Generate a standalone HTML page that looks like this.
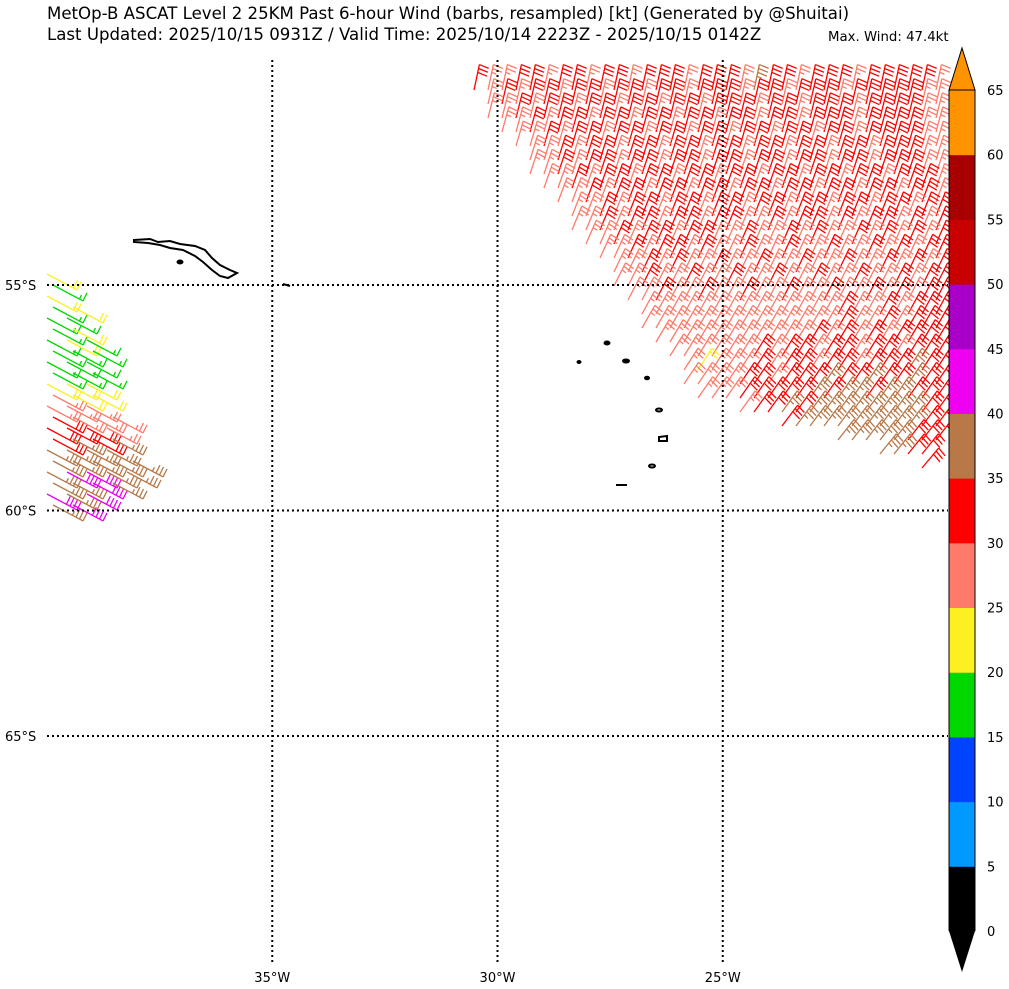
<!DOCTYPE html>
<html><head><meta charset="utf-8"><style>
body{margin:0;background:#fff;width:1009px;height:989px;overflow:hidden;font-family:"DejaVu Sans","Liberation Sans",sans-serif}
svg{position:absolute;left:0;top:0}
</style></head><body>
<svg id="chart" width="1009" height="989" font-family="DejaVu Sans, Liberation Sans, sans-serif">
<text x="47" y="19" font-size="16.6">MetOp-B ASCAT Level 2 25KM Past 6-hour Wind (barbs, resampled) [kt] (Generated by @Shuitai)</text>
<text x="47" y="40" font-size="16.6">Last Updated: 2025/10/15 0931Z / Valid Time: 2025/10/14 2223Z - 2025/10/15 0142Z</text>
<text x="828" y="41" font-size="13.3">Max. Wind: 47.4kt</text>
<g id="barbs"></g>
<g id="grid"></g>
<g id="land" fill="none" stroke="#000" stroke-width="2">
<path d="M134,240 L150,239 L158,242 L170,241 L180,244 L195,246 L205,250 L212,258 L220,265 L230,270 L237,273 L228,278 L220,276 L212,270 L203,262 L195,256 L183,250 L170,248 L160,245 L148,243 L134,242 Z"/>
<ellipse cx="180" cy="262" rx="2.5" ry="1.5" fill="#000"/>
<path d="M283,284 L290,286"/>
<ellipse cx="607" cy="343" rx="2.5" ry="1.5" fill="#000"/>
<ellipse cx="579" cy="362" rx="1.5" ry="1" fill="#000"/>
<ellipse cx="626" cy="361" rx="3" ry="1.5" fill="#000"/>
<ellipse cx="647" cy="378" rx="2" ry="1.2" fill="#000"/>
<ellipse cx="659" cy="410" rx="3" ry="1.5"/>
<path d="M659,437 L667,436 L667,441 L659,441 Z"/>
<ellipse cx="652" cy="466" rx="3" ry="1.5"/>
<path d="M616,485 L627,485"/>
</g>
<g id="axes" font-size="13"></g>
<g id="cbar"></g>
</svg>
<script>
const lonTicks=[-35,-30,-25];
const latTicks=[-55,-60,-65];
const cbLevels=[0,5,10,15,20,25,30,35,40,45,50,55,60,65];
const cbColors=["#000000","#0099ff","#0044ff","#00d800","#fcf020","#ff7a6a","#ff0000","#b87848","#f000f0","#a800c8","#c80000","#a80000","#ff9400"];
const codeSpeed={g:17,y:22,p:27,r:32,b:37,m:42};
const mainRows=[
"rpprrprrprrprrrprrrpbrrprrrprrrrrp",
".prprrprrprrprrprrrprrprrrprrrrrpp",
".pprprrprrprrprrprrrprrprrrprrrrpp",
"..pprprrprrprrprrprrprrprrrprrrrpp",
"...pprprrprrprrprrprrprrprrprrrrpp",
"....pprprrprrprrprrprrprrprrprrrpp",
"....pprprrprrprrprrprrprrprrprrrpp",
".....pprprrprrprrprrprrprrprrprrrp",
"......pprprrprrprrprrprrprrprrprrp",
".......pprprrprrprrprrprrprrprrprr",
".......pprprrprrprrpprprrprprrprpr",
"........pprprrprrpprpprprpprprprpr",
".........pprprrprpprpprpprpprprprr",
"..........pprprpprpprpprpprpprprpr",
"..........pprpprpprpprpprpprpprprr",
"...........pprpprpprpprpprpprprprr",
"............pppppppppppppprpprprrr",
"............pppppppppppppprpprprrr",
".............ppppppppppprprprprrrr",
"..............pppppprprrprrprrprrr",
"...............pyppprprrprrprrrbrr",
"...............pppprrprrrbrrbrrbrr",
"................ppprrrrrbrbbrbbrrr",
"...................prrbrbbbbbbbbrr",
"......................rbbbbbbbbbrr",
"..........................bbbbbrrr",
".............................bbrr",
"................................r"];
const leftRows=["y","g","y","gy","gg","gy","gyg","ggg","ggg","ggg","yyy","pyy","ppp","rppp","rrrp","rbrb","bbbb","bbbbb","bmmbb","bbmb","mbm","bm"];

const NS="http://www.w3.org/2000/svg";
const X=lon=>47+(lon+40)*(901/20);
const Y=lat=>285+(-55-lat)*(225.5/5);
function colorFor(s){let i=Math.min(Math.floor(s/5),cbColors.length-1);return cbColors[i];}
function mk(tag,attrs,parent){const e=document.createElementNS(NS,tag);for(const k in attrs)e.setAttribute(k,attrs[k]);parent.appendChild(e);return e;}
const barbs=document.getElementById('barbs');
function barb(x,y,ang,len,fang,speed,flen){
  const g=mk('g',{stroke:colorFor(speed),'stroke-width':1.3,fill:'none'},barbs);
  
  
  const dx=Math.cos(ang),dy=Math.sin(ang);
  const tx=x+dx*len,ty=y+dy*len;
  let d=`M${x},${y}L${tx},${ty}`;
  const fx=Math.cos(ang+fang),fy=Math.sin(ang+fang);
  let v=Math.round(speed/5)*5,pos=0;
  while(v>=10){const bx=tx-dx*pos,by=ty-dy*pos;d+=`M${bx},${by}l${fx*flen},${fy*flen}`;pos+=4;v-=10;}
  if(v>=5){if(pos===0)pos=4;const bx=tx-dx*pos,by=ty-dy*pos;d+=`M${bx},${by}l${fx*flen/2},${fy*flen/2}`;}
  mk('path',{d:d},g);
}
mainRows.forEach((row,r)=>{
  for(let c=0;c<row.length;c++){const ch=row[c];if(ch==='.')continue;
    const x=474+c*14,y=90+r*14;
    const tilt=(12+28*(r/27))*Math.PI/180;
    barb(x,y,-Math.PI/2+tilt,26,1.75,codeSpeed[ch],10);
  }
});
leftRows.forEach((row,r)=>{
  for(let c=0;c<row.length;c++){const ch=row[c];
    const x=47+c*20+(r%2)*6,y=274+r*11;
    barb(x,y,28*Math.PI/180,34,-1.6,codeSpeed[ch],9);
  }
});
const grid=document.getElementById('grid');
lonTicks.forEach(l=>{const e=mk('line',{x1:X(l),x2:X(l),y1:60,y2:962,stroke:'#000','stroke-width':2,'stroke-dasharray':'2,3'},grid);});
latTicks.forEach(l=>{const e=mk('line',{x1:47,x2:948,y1:Y(l),y2:Y(l),stroke:'#000','stroke-width':2,'stroke-dasharray':'2,3'},grid);});
const axes=document.getElementById('axes');
lonTicks.forEach(l=>{const t=mk('text',{x:X(l),y:982,'text-anchor':'middle'},axes);t.textContent=(-l)+'°W';});
latTicks.forEach(l=>{const t=mk('text',{x:5,y:Y(l)+5},axes);t.textContent=(-l)+'°S';});
const cb=document.getElementById('cbar');
const cbTop=90,cbBot=931,cbX=949,cbW=26,step=(cbBot-cbTop)/(cbLevels.length-1);
cbColors.forEach((col,i)=>{const y=cbBot-(i+1)*step;const r=mk('rect',{x:cbX,y:y,width:cbW,height:step+0.5,fill:col},cb);});
const up=mk('path',{d:`M${cbX},${cbTop}L${cbX+cbW/2},48L${cbX+cbW},${cbTop}Z`,fill:cbColors[cbColors.length-1],stroke:'#000','stroke-width':1},cb);

const dn=mk('path',{d:`M${cbX},${cbBot}L${cbX+cbW/2},972L${cbX+cbW},${cbBot}Z`,fill:cbColors[0]},cb);

const ol=mk('path',{d:`M${cbX},${cbTop}L${cbX},${cbBot}M${cbX+cbW},${cbTop}L${cbX+cbW},${cbBot}`,stroke:'#000','stroke-width':1},cb);

cbLevels.forEach((v,i)=>{const y=cbBot-i*step;const t=mk('text',{x:987,y:y+5,'font-size':13},cb);t.textContent=v;});
</script>
</body></html>
